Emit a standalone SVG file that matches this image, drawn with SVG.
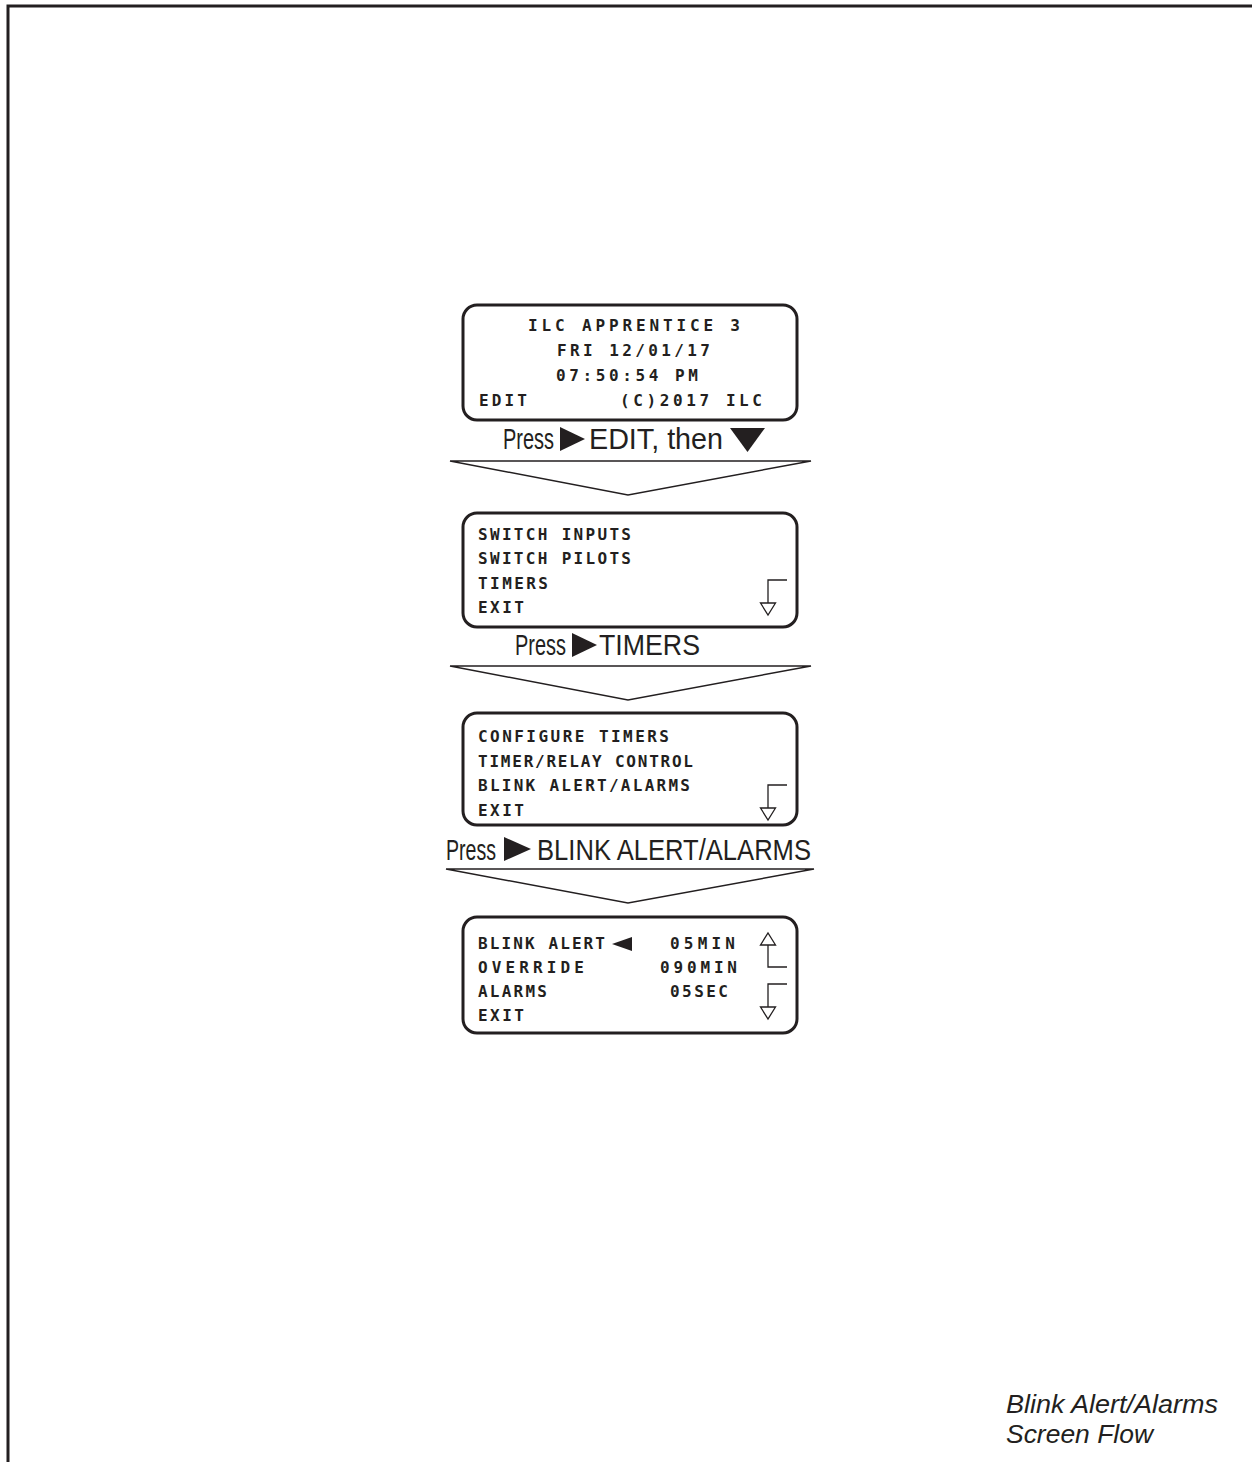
<svg xmlns="http://www.w3.org/2000/svg" width="1252" height="1462" viewBox="0 0 1252 1462">
<style>
.frame{fill:none;stroke:#231f20;stroke-width:3}
.box{fill:#fff;stroke:#231f20;stroke-width:3}
.lcd{font-family:"DejaVu Sans Mono","Liberation Mono",monospace;font-weight:bold;font-size:16px;fill:#231f20}
.lbl{font-family:"Liberation Sans",Arial,sans-serif;font-size:30px;fill:#231f20}
.tri{fill:#231f20;stroke:none}
.chev{fill:#fff;stroke:#231f20;stroke-width:1.5;stroke-linejoin:miter}
.hook{fill:none;stroke:#231f20;stroke-width:1.3}
.head{fill:#fff;stroke:#231f20;stroke-width:1.3}
.cap{font-family:"Liberation Sans",Arial,sans-serif;font-style:italic;font-size:25px;fill:#231f20}
</style>
<defs>
<g id="down">
<path class="hook" d="M0,0 H-19 V23"/>
<polygon class="head" points="-26.5,23 -11.5,23 -19,35"/>
</g>
<g id="up">
<path class="hook" d="M0,0 H-19 V-22"/>
<polygon class="head" points="-26.5,-22 -11.5,-22 -19,-34"/>
</g>
</defs>
<rect width="1252" height="1462" fill="#fff"/>
<path class="frame" d="M8,1462 V6 H1252"/>

<g id="screen-home">
<rect class="box" x="463" y="305" width="334" height="115" rx="14"/>
<text class="lcd" x="528" y="331" textLength="212">ILC APPRENTICE 3</text>
<text class="lcd" x="557" y="356" textLength="153">FRI 12/01/17</text>
<text class="lcd" x="556" y="381" textLength="142">07:50:54 PM</text>
<text class="lcd" x="479" y="406" textLength="48">EDIT</text>
<text class="lcd" x="620" y="406" textLength="142">(C)2017 ILC</text>
</g>

<g id="screen-edit">
<rect class="box" x="463" y="513" width="334" height="114" rx="14"/>
<text class="lcd" x="478" y="539.5" textLength="153">SWITCH INPUTS</text>
<text class="lcd" x="478" y="564" textLength="153">SWITCH PILOTS</text>
<text class="lcd" x="478" y="588.5" textLength="70">TIMERS</text>
<text class="lcd" x="478" y="613" textLength="46">EXIT</text>
<use href="#down" x="787" y="580"/>
</g>

<g id="screen-timers">
<rect class="box" x="463" y="713" width="334" height="112" rx="14"/>
<text class="lcd" x="478" y="742" textLength="191">CONFIGURE TIMERS</text>
<text class="lcd" x="478" y="766.5" textLength="215">TIMER/RELAY CONTROL</text>
<text class="lcd" x="478" y="791" textLength="212">BLINK ALERT/ALARMS</text>
<text class="lcd" x="478" y="815.5" textLength="46">EXIT</text>
<use href="#down" x="787" y="785"/>
</g>

<g id="screen-blink">
<rect class="box" x="463" y="917" width="334" height="116" rx="14"/>
<text class="lcd" x="478" y="949" textLength="127">BLINK ALERT</text>
<polygon class="tri" points="612,944 632,937 632,951"/>
<text class="lcd" x="670" y="949" textLength="65">05MIN</text>
<text class="lcd" x="478" y="973" textLength="106">OVERRIDE</text>
<text class="lcd" x="660" y="973" textLength="77">090MIN</text>
<text class="lcd" x="478" y="997" textLength="69">ALARMS</text>
<text class="lcd" x="670" y="997" textLength="58">05SEC</text>
<text class="lcd" x="478" y="1020.5" textLength="46">EXIT</text>
<use href="#up" x="787" y="967"/>
<use href="#down" x="787" y="984"/>
</g>

<g id="connectors">
<polygon class="chev" points="450,461 811,461 628,495"/>
<text class="lbl" x="503" y="449" textLength="51" lengthAdjust="spacingAndGlyphs">Press</text>
<polygon class="tri" points="560,427 560,451 585,439"/>
<text class="lbl" x="589" y="449" textLength="134" lengthAdjust="spacingAndGlyphs">EDIT, then</text>
<polygon class="tri" points="730,428 765,428 747.5,452"/>

<polygon class="chev" points="450,666 811,666 628,700"/>
<text class="lbl" x="515" y="655" textLength="51" lengthAdjust="spacingAndGlyphs">Press</text>
<polygon class="tri" points="572,633 572,657 597,645"/>
<text class="lbl" x="599" y="655" textLength="101" lengthAdjust="spacingAndGlyphs">TIMERS</text>

<polygon class="chev" points="446,869 814,869 628,903"/>
<text class="lbl" x="446" y="860" textLength="50" lengthAdjust="spacingAndGlyphs">Press</text>
<polygon class="tri" points="504,837 504,861 531,849"/>
<text class="lbl" x="537" y="860" textLength="274" lengthAdjust="spacingAndGlyphs">BLINK ALERT/ALARMS</text>
</g>

<g id="caption">
<text class="cap" x="1006" y="1413" textLength="212" lengthAdjust="spacingAndGlyphs">Blink Alert/Alarms</text>
<text class="cap" x="1006" y="1443" textLength="147" lengthAdjust="spacingAndGlyphs">Screen Flow</text>
</g>
</svg>
